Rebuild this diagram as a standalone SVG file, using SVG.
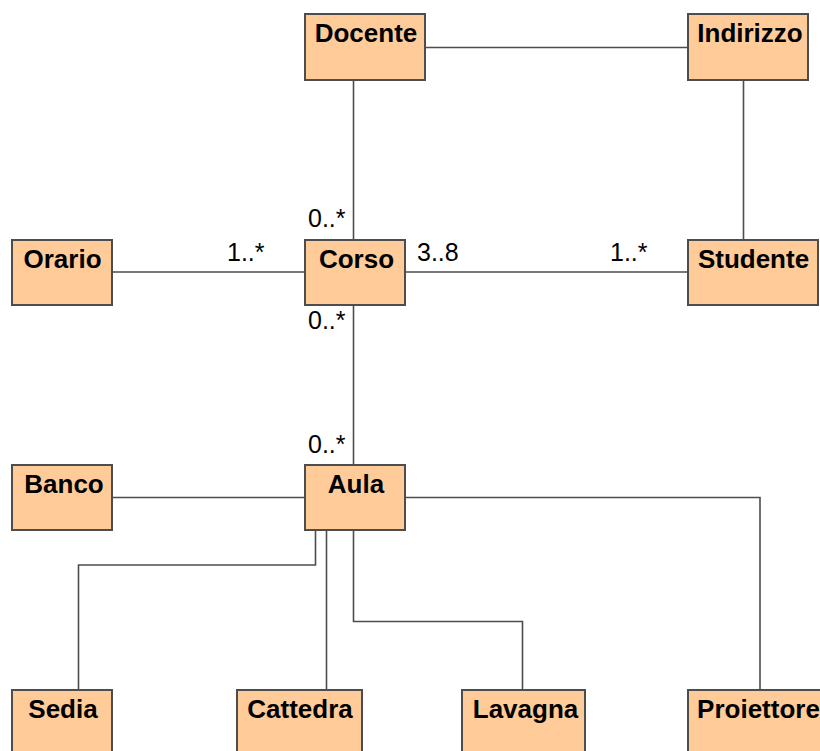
<svg xmlns="http://www.w3.org/2000/svg" width="820" height="751" viewBox="0 0 820 751">
<style>
.box{fill:#FFCC99;stroke:#4d4d4d;stroke-width:2}
.name{font-family:"Liberation Sans",Arial,sans-serif;font-weight:bold;font-size:26px;fill:#000;text-anchor:middle}
.mult{font-family:"Liberation Sans",Arial,sans-serif;font-size:25px;fill:#000}
.conn{fill:none;stroke:#4d4d4d;stroke-width:1.6}
</style>
<rect width="820" height="751" fill="#ffffff"/>
<g id="connectors">
<path class="conn" d="M426 47.5H687"/>
<path class="conn" d="M353.5 81V239"/>
<path class="conn" d="M743.5 81V239"/>
<path class="conn" d="M113 272H304"/>
<path class="conn" d="M406 272H687"/>
<path class="conn" d="M353.5 306V464"/>
<path class="conn" d="M113 497.5H304"/>
<path class="conn" d="M406 497.5H760V689"/>
<path class="conn" d="M315.5 531V565H78.5V689"/>
<path class="conn" d="M326.5 531V689"/>
<path class="conn" d="M353.5 531V621.5H522.5V689"/>
</g>
<g id="labels">
<text class="mult" x="308" y="227">0..*</text>
<text class="mult" x="227" y="261">1..*</text>
<text class="mult" x="417" y="261">3..8</text>
<text class="mult" x="610" y="261">1..*</text>
<text class="mult" x="308" y="329">0..*</text>
<text class="mult" x="308" y="453">0..*</text>
</g>
<g id="Docente"><rect class="box" x="305" y="14" width="120" height="66"/><text class="name" x="366" y="42">Docente</text></g>
<g id="Indirizzo"><rect class="box" x="688" y="14" width="120" height="66"/><text class="name" x="750" y="42">Indirizzo</text></g>
<g id="Orario"><rect class="box" x="12" y="240" width="100" height="65"/><text class="name" x="62.5" y="268">Orario</text></g>
<g id="Corso"><rect class="box" x="305" y="240" width="100" height="65"/><text class="name" x="356.5" y="268">Corso</text></g>
<g id="Studente"><rect class="box" x="688" y="240" width="130" height="65"/><text class="name" x="753.5" y="268">Studente</text></g>
<g id="Banco"><rect class="box" x="12" y="465" width="100" height="65"/><text class="name" x="64" y="493">Banco</text></g>
<g id="Aula"><rect class="box" x="305" y="465" width="100" height="65"/><text class="name" x="356" y="493">Aula</text></g>
<g id="Sedia"><rect class="box" x="12" y="690" width="100" height="65"/><text class="name" x="63" y="718">Sedia</text></g>
<g id="Cattedra"><rect class="box" x="237" y="690" width="125" height="65"/><text class="name" x="300" y="718">Cattedra</text></g>
<g id="Lavagna"><rect class="box" x="462" y="690" width="123" height="65"/><text class="name" x="525.5" y="718">Lavagna</text></g>
<g id="Proiettore"><rect class="box" x="688" y="690" width="140" height="65"/><text class="name" x="758.5" y="718">Proiettore</text></g>
</svg>
